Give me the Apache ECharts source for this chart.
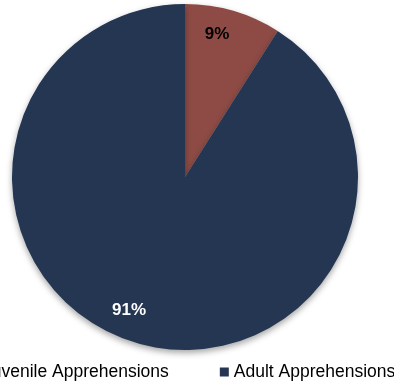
<!DOCTYPE html>
<html><head><meta charset="utf-8">
<script src="https://cdn.jsdelivr.net/npm/echarts@6/dist/echarts.min.js"></script>
<style>html,body{margin:0;padding:0;background:#fff}#c{width:394px;height:381px}</style>
</head><body><div id="c"></div>
<script>
const categories = ['Juvenile Apprehensions', 'Adult Apprehensions'];
const values = [9, 91];
const colors = ['#8E4B45', '#243652'];
const labelColors = ['#000000', '#ffffff'];
const labelOffsets = [[7, -57], [-31, 47]];

const chart = echarts.init(document.getElementById('c'));
chart.setOption({
  animation: false,
  legend: {
    data: categories,
    left: -31,
    top: 363,
    width: 600,
    padding: 0,
    icon: 'rect',
    itemWidth: 9,
    itemHeight: 9,
    itemGap: 51,
    textStyle: { fontFamily: 'Liberation Sans, Arial, sans-serif', fontSize: 17.5, color: '#000' }
  },
  series: [{
    type: 'pie',
    center: [185, 177],
    radius: [0, 173],
    startAngle: 90,
    clockwise: true,
    silent: true,
    data: categories.map((n, i) => ({
      name: n,
      value: values[i],
      itemStyle: { color: colors[i] },
      label: { color: labelColors[i], offset: labelOffsets[i] }
    })),
    itemStyle: {
      borderWidth: 0,
      shadowBlur: 6,
      shadowColor: 'rgba(0,0,0,0.35)',
      shadowOffsetY: 3
    },
    label: {
      show: true,
      position: 'inside',
      formatter: p => p.value + '%',
      fontFamily: 'Liberation Sans, Arial, sans-serif',
      fontSize: 17,
      fontWeight: 'bold'
    },
    labelLine: { show: false }
  }]
});
</script></body></html>
